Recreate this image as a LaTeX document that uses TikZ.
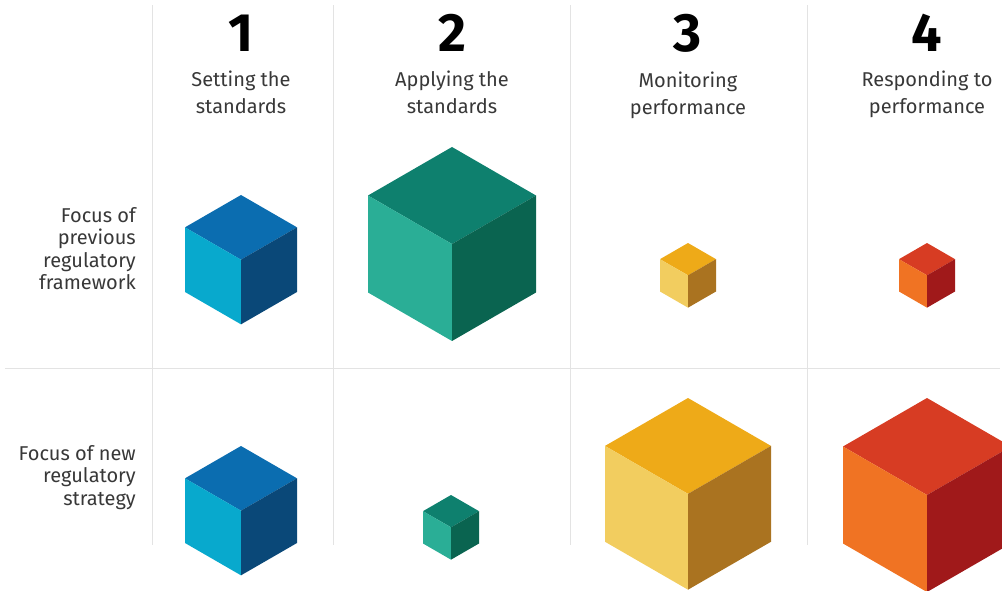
\documentclass[tikz,border=0pt]{standalone}
\usepackage{fontspec}
\setmainfont{Fira Sans}
\usepackage{tikz}
\usetikzlibrary{positioning}
\usepackage{xcolor}

\definecolor{bluetop}{HTML}{0B6DB0}
\definecolor{blueleft}{HTML}{08A9CD}
\definecolor{blueright}{HTML}{0A4878}
\definecolor{tealtop}{HTML}{0E806E}
\definecolor{tealleft}{HTML}{2AAE96}
\definecolor{tealright}{HTML}{0A6450}
\definecolor{yellowtop}{HTML}{EEAA18}
\definecolor{yellowleft}{HTML}{F2CD5F}
\definecolor{yellowright}{HTML}{AA7320}
\definecolor{redtop}{HTML}{D73C23}
\definecolor{redleft}{HTML}{F07323}
\definecolor{redright}{HTML}{A0191A}

% cube: x of top corner, y of top corner, half width, colour family
\newcommand{\cube}[4]{%
  \pgfmathsetmacro\cubeh{0.5774*#3}%
  \pgfmathsetmacro\cubee{1.1547*#3}%
  \fill[#4top] (#1,#2) -- ++(#3,\cubeh) -- ++(-#3,\cubeh) -- ++(-#3,-\cubeh) -- cycle;
  \fill[#4left] (#1-#3,#2+\cubeh) -- ++(#3,\cubeh) -- ++(0,\cubee) -- ++(-#3,-\cubeh) -- cycle;
  \fill[#4right] (#1+#3,#2+\cubeh) -- ++(-#3,\cubeh) -- ++(0,\cubee) -- ++(#3,-\cubeh) -- cycle;
}

\begin{document}
\begin{tikzpicture}[x=1pt, y=-1pt,
    node distance=19pt,
    grid/.style={draw=black!11, line width=1pt},
    number/.style={font=\fontsize{54}{54}\selectfont\bfseries, inner sep=0pt},
    headtext/.style={font=\fontsize{20}{27}\selectfont, text=black!78, align=center, inner sep=0pt},
    rowtext/.style={font=\fontsize{20}{22.5}\selectfont, text=black!78, align=right, inner sep=0pt}]
  \useasboundingbox (0,0) rectangle (1002,591);
  \clip (0,0) rectangle (1002,591);

  % grid
  \draw[grid] (152,5) -- (152,545);
  \draw[grid] (333,5) -- (333,545);
  \draw[grid] (570,5) -- (570,545);
  \draw[grid] (807,5) -- (807,545);
  \draw[grid] (5,368) -- (1000,368);

  % previous framework
  \cube{241}{195}{56}{blue}
  \cube{452}{147}{84}{teal}
  \cube{688}{243}{28}{yellow}
  \cube{927}{243}{28}{red}
  % new strategy
  \cube{241}{446}{56}{blue}
  \cube{451}{495}{28}{teal}
  \cube{688}{398}{83}{yellow}
  \cube{927}{398}{84}{red}

  \node[number, anchor=base] (num1) at (241,52) {1};
  \node[number, anchor=base] (num2) at (452,52) {2};
  \node[number, anchor=base] (num3) at (688,52) {3};
  \node[number, anchor=base] (num4) at (927,52) {4};
  \node[headtext, below=of num1] (head1) {Setting the\\standards};
  \node[headtext, below=of num2] (head2) {Applying the\\standards};
  \node[headtext, below=of num3] (head3) {Monitoring\\performance};
  \node[headtext, below=of num4] (head4) {Responding to\\performance};

  \node[rowtext, anchor=north east] (prev) at (136,207) {Focus of\\previous\\regulatory\\framework};
  \node[rowtext, anchor=north east] (new) at (136,445) {Focus of new\\regulatory\\strategy};
\end{tikzpicture}
\end{document}
